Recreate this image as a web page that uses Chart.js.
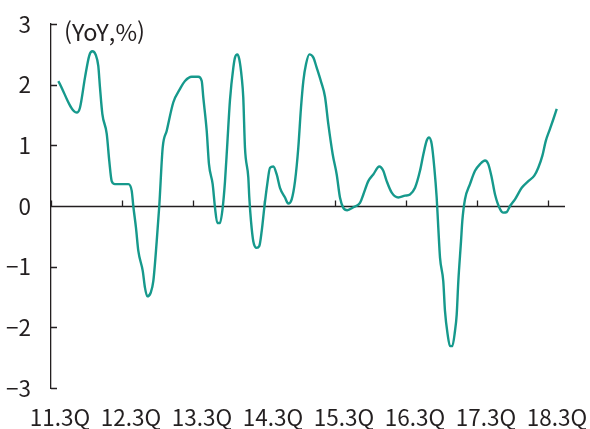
<!DOCTYPE html>
<html lang="ko">
  <head>
    <meta charset="UTF-8" />
    <title>YoY</title>
    <script src="https://cdn.jsdelivr.net/npm/chart.js"></script>
    <style>
      html, body { margin: 0; padding: 0; background: #fff; }
      #wrap { width: 590px; height: 429px; }
    </style>
  </head>
  <body>
    <div id="wrap"><canvas id="yoyChart" width="590" height="429"></canvas></div>

    <script>
      // x = year index (11 = 11.3Q, 12 = 12.3Q, ...)
      const xValues = [
        11.103, 11.362, 11.408, 11.479, 11.539, 11.582, 11.63, 11.666, 11.69, 11.723,
        11.785, 11.821, 11.855, 11.901, 12.089, 12.137, 12.159, 12.197, 12.23, 12.292,
        12.324, 12.356, 12.404, 12.441, 12.489, 12.525, 12.573, 12.63, 12.723, 12.817,
        12.887, 12.982, 13.075, 13.123, 13.145, 13.193, 13.225, 13.277, 13.31, 13.342,
        13.38, 13.418, 13.451, 13.483, 13.521, 13.568, 13.592, 13.624, 13.652, 13.686,
        13.708, 13.732, 13.779, 13.793, 13.817, 13.849, 13.897, 13.934, 13.968, 14.004,
        14.046, 14.085, 14.131, 14.179, 14.225, 14.296, 14.342, 14.39, 14.437, 14.483,
        14.521, 14.554, 14.592, 14.638, 14.694, 14.742, 14.803, 14.859, 14.906, 14.968,
        15.024, 15.07, 15.117, 15.173, 15.258, 15.352, 15.399, 15.469, 15.539, 15.624,
        15.68, 15.728, 15.799, 15.892, 15.986, 16.056, 16.127, 16.197, 16.244, 16.292,
        16.324, 16.362, 16.399, 16.432, 16.455, 16.479, 16.525, 16.549, 16.587, 16.62,
        16.652, 16.69, 16.714, 16.737, 16.775, 16.793, 16.831, 16.901, 16.972, 17.042,
        17.113, 17.159, 17.207, 17.254, 17.324, 17.37, 17.418, 17.465, 17.535, 17.63,
        17.723, 17.807, 17.863, 17.921, 17.968, 18.028, 18.075, 18.123
      ];
      const yoyValues = [
        2.06, 1.54, 1.62, 2.12, 2.48, 2.55, 2.49, 2.31, 1.95, 1.52,
        1.19, 0.74, 0.41, 0.36, 0.36, 0.25, 0.0, -0.36, -0.74, -1.07,
        -1.35, -1.49, -1.43, -1.24, -0.58, 0.0, 0.96, 1.24, 1.71, 1.93,
        2.06, 2.13, 2.13, 2.06, 1.79, 1.24, 0.69, 0.36, -0.03, -0.28,
        -0.28, -0.03, 0.41, 1.02, 1.75, 2.28, 2.45, 2.5, 2.42, 2.12,
        1.79, 0.96, 0.47, 0.14, -0.25, -0.58, -0.69, -0.66, -0.41, -0.03,
        0.36, 0.63, 0.65, 0.52, 0.3, 0.14, 0.04, 0.11, 0.41, 0.96,
        1.62, 2.06, 2.34, 2.5, 2.45, 2.28, 2.05, 1.8, 1.35, 0.85,
        0.52, 0.14, -0.03, -0.07, -0.02, 0.05, 0.19, 0.41, 0.52, 0.65,
        0.58, 0.41, 0.22, 0.14, 0.17, 0.19, 0.3, 0.58, 0.85, 1.08,
        1.13, 1.02, 0.63, 0.14, -0.36, -0.85, -1.24, -1.73, -2.12, -2.31,
        -2.31, -2.06, -1.79, -1.24, -0.58, -0.25, 0.11, 0.36, 0.58, 0.69,
        0.75, 0.69, 0.47, 0.19, -0.05, -0.11, -0.1, 0.0, 0.11, 0.3,
        0.41, 0.5, 0.63, 0.83, 1.07, 1.27, 1.43, 1.6
      ];
      const tickLabels = ["11.3Q", "12.3Q", "13.3Q", "14.3Q", "15.3Q", "16.3Q", "17.3Q", "18.3Q"];
      const unitLabel = "(YoY,%)";

      const fontFamily = "'Noto Sans CJK KR', 'Noto Sans', sans-serif";
      const inkColor = "#231f20";

      // zero line, inward ticks and unit label
      const axisMarks = {
        id: "axisMarks",
        beforeDatasetsDraw(chart) {
          const { ctx, chartArea, scales } = chart;
          const y0 = Math.round(scales.y.getPixelForValue(0)) + 0.5;
          ctx.save();
          ctx.strokeStyle = inkColor;
          ctx.lineWidth = 1.3;
          ctx.beginPath();
          ctx.moveTo(chartArea.left, y0);
          ctx.lineTo(chartArea.right, y0);
          scales.x.ticks.forEach((t) => {
            const px = Math.round(scales.x.getPixelForValue(t.value)) + 0.5;
            ctx.moveTo(px, y0);
            ctx.lineTo(px, y0 - 6);
          });
          scales.y.ticks.forEach((t) => {
            const py = Math.round(scales.y.getPixelForValue(t.value)) + 0.5;
            ctx.moveTo(chartArea.left, py);
            ctx.lineTo(chartArea.left + 6, py);
          });
          ctx.stroke();
          ctx.fillStyle = inkColor;
          ctx.font = "23.5px " + fontFamily;
          ctx.textBaseline = "middle";
          ctx.fillText(unitLabel, chartArea.left + 13, 32);
          ctx.restore();
        },
      };

      const ctx = document.getElementById("yoyChart").getContext("2d");
      const yoyChart = new Chart(ctx, {
        type: "line",
        data: {
          datasets: [
            {
              data: xValues.map((x, i) => ({ x: x, y: yoyValues[i] })),
              borderColor: "#16998c",
              borderWidth: 2.4,
              pointRadius: 0,
              cubicInterpolationMode: "monotone",
              fill: false,
            },
          ],
        },
        options: {
          responsive: false,
          animation: false,
          layout: { padding: { left: 0, right: 25, top: 24, bottom: 0 } },
          plugins: { legend: { display: false }, tooltip: { enabled: false } },
          scales: {
            x: {
              type: "linear",
              min: 11,
              max: 11 + 514 / 71,
              afterBuildTicks: (axis) => {
                axis.ticks = tickLabels.map((_, i) => ({ value: 11 + i }));
              },
              afterFit: (axis) => {
                axis.height = 41;
                axis.paddingLeft = 0;
                axis.paddingRight = 0;
              },
              ticks: {
                autoSkip: false,
                maxRotation: 0,
                padding: 16,
                labelOffset: 9,
                color: inkColor,
                font: { family: fontFamily, size: 22.5 },
                callback: (v) => tickLabels[v - 11],
              },
              grid: { display: false, drawTicks: false },
              border: { display: false },
            },
            y: {
              min: -3,
              max: 3,
              afterFit: (axis) => {
                axis.width = 51;
                axis.paddingTop = 0;
                axis.paddingBottom = 0;
              },
              ticks: {
                stepSize: 1,
                padding: 20,
                color: inkColor,
                font: { family: fontFamily, size: 22.5 },
                callback: (v) => (v < 0 ? "\u2212" + Math.abs(v) : String(v)),
              },
              grid: { display: false, drawTicks: false },
              border: { display: true, color: inkColor, width: 1.3 },
            },
          },
        },
        plugins: [axisMarks],
      });
    </script>
  </body>
</html>
